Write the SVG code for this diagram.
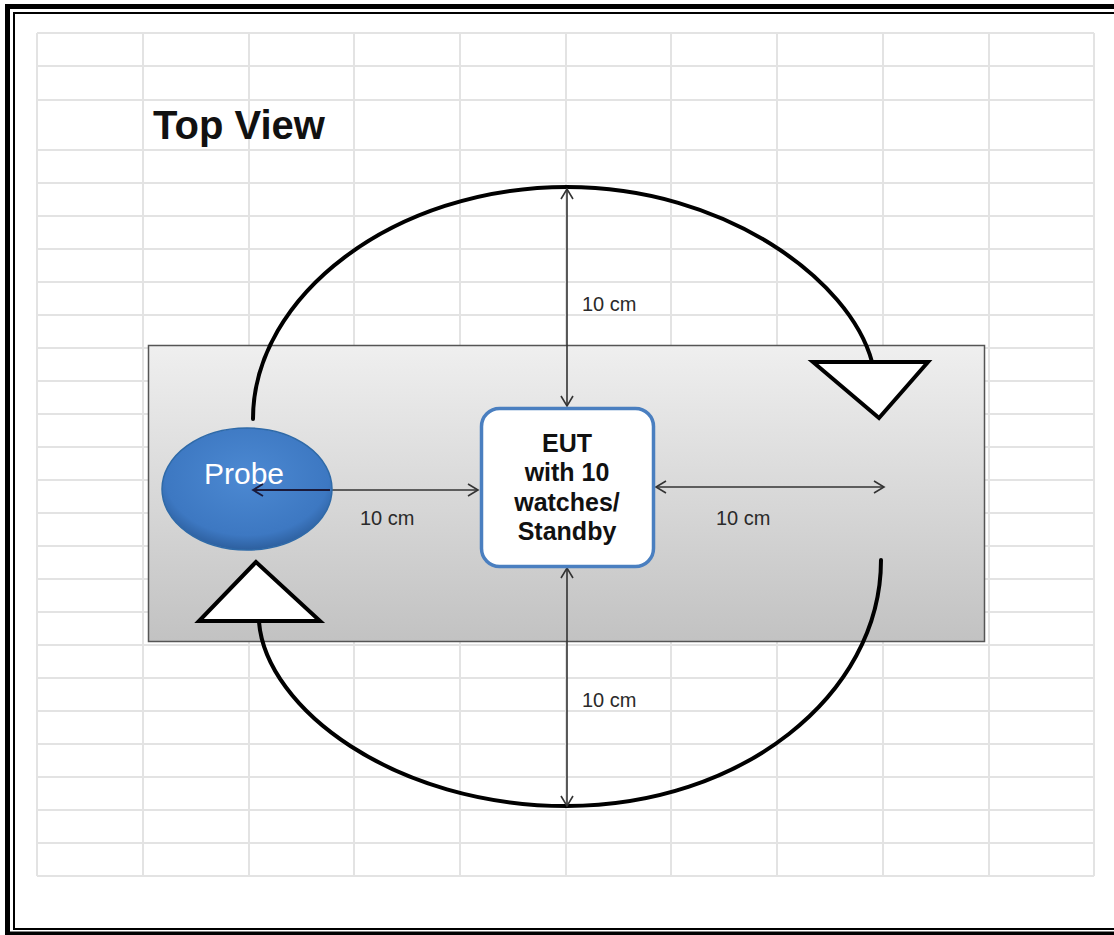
<svg xmlns="http://www.w3.org/2000/svg" width="1114" height="935" viewBox="0 0 1114 935">
<defs>
<style>
.grid line{stroke:#e3e3e3;stroke-width:2}
.dim{stroke:#333;stroke-width:1.6;fill:none;marker-start:url(#chev);marker-end:url(#chev)}
.curve{stroke:#000;stroke-width:4;fill:none;stroke-linecap:round}
.tri{fill:#fff;stroke:#000;stroke-width:4;stroke-linejoin:miter}
.lbl{font-family:"Liberation Sans",Arial,sans-serif;font-size:20px;fill:#2a2a2a}
.eut{font-family:"Liberation Sans",Arial,sans-serif;font-size:25px;font-weight:bold;fill:#111;text-anchor:middle}
</style>
<marker id="chev" viewBox="-12 -8 14 16" markerWidth="14" markerHeight="16" refX="0" refY="0" orient="auto-start-reverse" markerUnits="userSpaceOnUse">
<path d="M -10 -6 L 0 0 L -10 6" fill="none" stroke="#333" stroke-width="1.6"/>
</marker>
<linearGradient id="bench" x1="0" y1="0" x2="0" y2="1">
<stop offset="0" stop-color="#efefef"/>
<stop offset="1" stop-color="#c2c2c2"/>
</linearGradient>
<radialGradient id="probeFill" cx="0.5" cy="0.4" r="0.6">
<stop offset="0" stop-color="#4c89d2"/>
<stop offset="0.8" stop-color="#3d78c2"/>
<stop offset="1" stop-color="#2d5f9e"/>
</radialGradient>
</defs>
<rect width="1114" height="935" fill="#fff"/>
<g id="frame">
<rect x="7.5" y="6.5" width="1120" height="927.5" fill="none" stroke="#000" stroke-width="5"/>
<rect x="14" y="13" width="1110" height="916" fill="none" stroke="#000" stroke-width="2"/>
</g>
<g id="grid" class="grid">
<line x1="37" y1="33" x2="37" y2="876"/>
<line x1="143" y1="33" x2="143" y2="876"/>
<line x1="249" y1="33" x2="249" y2="876"/>
<line x1="354" y1="33" x2="354" y2="876"/>
<line x1="460" y1="33" x2="460" y2="876"/>
<line x1="566" y1="33" x2="566" y2="876"/>
<line x1="671" y1="33" x2="671" y2="876"/>
<line x1="777" y1="33" x2="777" y2="876"/>
<line x1="883" y1="33" x2="883" y2="876"/>
<line x1="989" y1="33" x2="989" y2="876"/>
<line x1="1094" y1="33" x2="1094" y2="876"/>
<line x1="37" y1="33" x2="1094" y2="33"/>
<line x1="37" y1="66" x2="1094" y2="66"/>
<line x1="37" y1="100" x2="1094" y2="100"/>
<line x1="37" y1="150" x2="1094" y2="150"/>
<line x1="37" y1="183" x2="1094" y2="183"/>
<line x1="37" y1="216" x2="1094" y2="216"/>
<line x1="37" y1="249" x2="1094" y2="249"/>
<line x1="37" y1="282" x2="1094" y2="282"/>
<line x1="37" y1="315" x2="1094" y2="315"/>
<line x1="37" y1="348" x2="1094" y2="348"/>
<line x1="37" y1="381" x2="1094" y2="381"/>
<line x1="37" y1="414" x2="1094" y2="414"/>
<line x1="37" y1="447" x2="1094" y2="447"/>
<line x1="37" y1="480" x2="1094" y2="480"/>
<line x1="37" y1="513" x2="1094" y2="513"/>
<line x1="37" y1="546" x2="1094" y2="546"/>
<line x1="37" y1="579" x2="1094" y2="579"/>
<line x1="37" y1="612" x2="1094" y2="612"/>
<line x1="37" y1="645" x2="1094" y2="645"/>
<line x1="37" y1="678" x2="1094" y2="678"/>
<line x1="37" y1="711" x2="1094" y2="711"/>
<line x1="37" y1="744" x2="1094" y2="744"/>
<line x1="37" y1="777" x2="1094" y2="777"/>
<line x1="37" y1="810" x2="1094" y2="810"/>
<line x1="37" y1="843" x2="1094" y2="843"/>
<line x1="37" y1="876" x2="1094" y2="876"/>
</g>
<text id="title" x="153" y="139" font-family="'Liberation Sans',Arial,sans-serif" font-size="40" font-weight="bold" fill="#111">Top View</text>
<g id="bench">
<rect x="148.5" y="345.5" width="836" height="296" fill="url(#bench)" stroke="#555" stroke-width="1.5"/>
</g>
<g id="connectors">
<path class="curve" d="M 253 419 C 253 296, 394 187, 567 187 C 725 187, 850 280, 872 362"/>
<path class="curve" d="M 881 560 C 881 696, 740 806, 567 806 C 394 806, 266 708, 259 622"/>
<line class="dim" x1="567" y1="189" x2="567" y2="406"/>
<line class="dim" x1="567" y1="568" x2="567" y2="806"/>
<line class="dim" x1="253" y1="490" x2="478" y2="490"/>
<line class="dim" x1="656" y1="487" x2="884" y2="487"/>
</g>
<g id="probe">
<ellipse cx="247" cy="489" rx="85" ry="61" fill="url(#probeFill)" stroke="#2f6aa8" stroke-width="1.5"/>
<text x="244" y="484" text-anchor="middle" font-family="'Liberation Sans',Arial,sans-serif" font-size="30" fill="#fff">Probe</text>
</g>
<line x1="253" y1="490" x2="330" y2="490" stroke="#1a1a3a" stroke-width="1.8"/>
<path d="M 263 484 L 253 490 L 263 496" fill="none" stroke="#1a1a3a" stroke-width="1.8"/>
<g id="eut">
<rect x="481.5" y="408.5" width="172" height="158" rx="18" fill="#fff" stroke="#4a7fc0" stroke-width="3.5"/>
<text class="eut" x="567" y="452">EUT</text>
<text class="eut" x="567" y="481">with 10</text>
<text class="eut" x="567" y="511">watches/</text>
<text class="eut" x="567" y="540">Standby</text>
</g>
<g id="triangle-left">
<polygon class="tri" points="256,562 199,621 320,621"/>
</g>
<g id="triangle-right">
<polygon class="tri" points="813,362 928,362 879,418"/>
</g>
<g id="labels">
<text class="lbl" x="582" y="311">10 cm</text>
<text class="lbl" x="582" y="707">10 cm</text>
<text class="lbl" x="360" y="525">10 cm</text>
<text class="lbl" x="716" y="525">10 cm</text>
</g>
</svg>
